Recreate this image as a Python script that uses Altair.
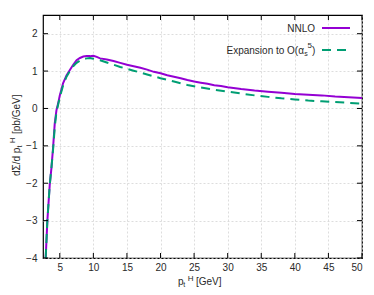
import altair as alt
import pandas as pd

# NNLO curve
x_nnlo = [2.9, 3.15, 3.5, 3.75, 4.0, 4.25, 4.5, 4.75, 5.0, 5.5, 6.0, 6.5, 7.0, 7.5, 8.0, 8.5, 9.0, 9.5,
          10.0, 10.5, 11.0, 12.0, 13.0, 14.0, 15.0, 16.0, 17.0, 18.0, 19.0, 20.0, 21.0, 22.0, 23.0,
          24.0, 25.0, 26.0, 27.0, 28.0, 29.0, 30.0, 32.0, 34.0, 36.0, 38.0, 40.0, 42.0, 44.0, 46.0,
          48.0, 50.0]
y_nnlo = [-4.0, -3.0, -2.05, -1.6, -1.05, -0.4, -0.05, 0.13, 0.35, 0.68, 0.88, 1.03, 1.17, 1.29,
          1.35, 1.39, 1.40, 1.40, 1.41, 1.38, 1.34, 1.31, 1.27, 1.22, 1.17, 1.13, 1.09, 1.04, 0.98,
          0.94, 0.89, 0.85, 0.81, 0.76, 0.72, 0.69, 0.66, 0.62, 0.60, 0.57, 0.52, 0.48, 0.45, 0.42,
          0.39, 0.37, 0.35, 0.32, 0.30, 0.28]

# Expansion to O(alpha_s^5)
x_exp = [2.9, 3.15, 3.5, 3.75, 4.0, 4.25, 4.5, 4.75, 5.0, 5.5, 6.0, 6.5, 7.0, 7.5, 8.0, 8.5, 9.0, 9.5,
         10.0, 11.0, 12.0, 13.0, 14.0, 15.0, 16.0, 17.0, 18.0, 19.0, 20.0, 22.0, 24.0, 26.0, 28.0,
         30.0, 32.0, 34.0, 36.0, 38.0, 40.0, 42.0, 44.0, 46.0, 48.0, 50.0]
y_exp = [-4.0, -3.0, -2.05, -1.6, -1.1, -0.5, -0.1, 0.1, 0.3, 0.62, 0.85, 1.0, 1.13, 1.22, 1.28,
         1.32, 1.34, 1.35, 1.33, 1.29, 1.23, 1.17, 1.11, 1.06, 1.01, 0.96, 0.91, 0.86, 0.81, 0.72,
         0.63, 0.56, 0.50, 0.45, 0.40, 0.35, 0.31, 0.27, 0.24, 0.21, 0.19, 0.17, 0.15, 0.13]

x_ticks = [5, 10, 15, 20, 25, 30, 35, 40, 45, 50]
y_ticks = [-4, -3, -2, -1, 0, 1, 2]

# text pieces (main, subscript, superscript, rest)
x_title = ["p", "t", "H", "[GeV]"]
y_title = ["dΣ/d p", "t", "H", "[pb/GeV]"]
leg1 = "NNLO"
leg2 = ["Expansion to O(α", "s", "5", ")"]

W, H = 319, 243
FONT = "Liberation Sans"
C_NNLO = "#9400D3"
C_EXP = "#009E73"
TXT = "#2a2a2a"

xs = alt.Scale(domain=[2.5, 50], nice=False, zero=False)
ys = alt.Scale(domain=[-4, 2.5], nice=False, zero=False)

df_nnlo = pd.DataFrame({"x": x_nnlo, "y": y_nnlo})
df_exp = pd.DataFrame({"x": x_exp, "y": y_exp})
df_xt = pd.DataFrame({"x": x_ticks})
df_yt = pd.DataFrame({"y": y_ticks})
df_one = pd.DataFrame({"k": [0]})

common = dict(grid=True, gridColor="#d4d4d4", gridDash=[2, 2], gridWidth=0.8, ticks=False,
              domain=False, labelFontSize=10, labelFont=FONT, labelColor=TXT, title=None)
x_axis = alt.Axis(values=x_ticks, labelPadding=4, **common)
y_axis = alt.Axis(values=y_ticks, labelPadding=6, **common)

X = lambda f: alt.X(f"{f}:Q", scale=xs, axis=x_axis)
Y = lambda f: alt.Y(f"{f}:Q", scale=ys, axis=y_axis)

nnlo = alt.Chart(df_nnlo).mark_line(color=C_NNLO, strokeWidth=2, clip=True).encode(
    x=X("x"), y=Y("y"))
exp = alt.Chart(df_exp).mark_line(color=C_EXP, strokeWidth=2, strokeDash=[9, 6], clip=True).encode(
    x=X("x"), y=Y("y"))

tk = dict(color="#000", strokeWidth=1)
xt_bot = alt.Chart(df_xt).mark_rule(**tk).encode(x=X("x"), y=alt.value(H), y2=alt.value(H - 5))
xt_top = alt.Chart(df_xt).mark_rule(**tk).encode(x=X("x"), y=alt.value(0), y2=alt.value(5))
yt_left = alt.Chart(df_yt).mark_rule(**tk).encode(y=Y("y"), x=alt.value(0), x2=alt.value(5))
yt_right = alt.Chart(df_yt).mark_rule(**tk).encode(y=Y("y"), x=alt.value(W), x2=alt.value(W - 5))


def txt(s, x, y, size=10, align="left", angle=0):
    kw = dict(align=align, baseline="alphabetic", font=FONT, fontSize=size, color=TXT)
    if angle:
        kw["angle"] = angle
    return alt.Chart(df_one).mark_text(**kw).encode(
        x=alt.value(x), y=alt.value(y), text=alt.value(s))


texts = [
    # x title
    txt(x_title[0], 135, 270),
    txt(x_title[1], 140.3, 272.3, size=7),
    txt(x_title[2], 144.7, 265.8, size=8),
    txt(x_title[3], 153, 270),
    # y title (rotated, reading upward)
    txt(y_title[0], -23.5, 161, angle=270),
    txt(y_title[1], -21.2, 132.6, size=7, angle=270),
    txt(y_title[2], -28.3, 128.3, size=8, angle=270),
    txt(y_title[3], -23.5, 119, angle=270),
    # legend
    txt(leg1, 272, 16.5, align="right"),
    txt(leg2[0], 261, 38.5, align="right"),
    txt(leg2[1], 261.3, 41, size=7),
    txt(leg2[2], 264.5, 33, size=8),
    txt(leg2[3], 269, 38.5),
]

leg_l1 = alt.Chart(df_one).mark_rule(color=C_NNLO, strokeWidth=2).encode(
    x=alt.value(279), x2=alt.value(307), y=alt.value(13))
leg_l2 = alt.Chart(df_one).mark_rule(color=C_EXP, strokeWidth=2, strokeDash=[9, 6]).encode(
    x=alt.value(279), x2=alt.value(307), y=alt.value(35))

chart = alt.layer(nnlo, exp, xt_bot, xt_top, yt_left, yt_right, *texts, leg_l1, leg_l2).properties(
    width=W, height=H,
    autosize=alt.AutoSizeParams(type="none"),
    padding={"left": 35, "top": 7, "right": 4, "bottom": 29},
    background="white",
).configure_view(stroke="#000", strokeWidth=1.2)

chart.save("out.html", embed_options={"renderer": "svg", "actions": False})
